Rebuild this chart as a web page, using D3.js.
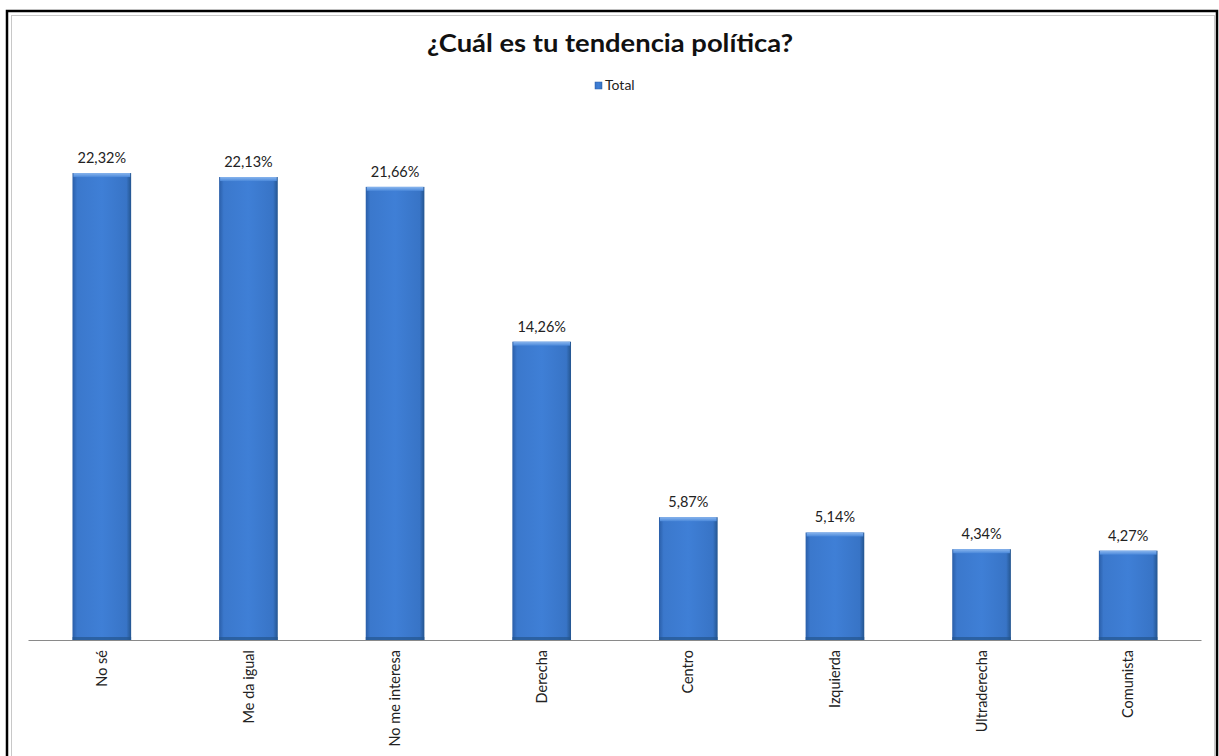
<!DOCTYPE html>
<html>
<head>
<meta charset="utf-8">
<script src="https://cdn.jsdelivr.net/npm/d3@7"></script>
<style>
  html, body { margin: 0; padding: 0; background: #fff; }
  svg { display: block; }
</style>
</head>
<body>
<svg id="chart" width="1219" height="756"></svg>
<script>
const title = "¿Cuál es tu tendencia política?";
const seriesName = "Total";
const categories = ["No sé", "Me da igual", "No me interesa", "Derecha", "Centro", "Izquierda", "Ultraderecha", "Comunista"];
const values = [22.32, 22.13, 21.66, 14.26, 5.87, 5.14, 4.34, 4.27];
const valueLabels = ["22,32%", "22,13%", "21,66%", "14,26%", "5,87%", "5,14%", "4,34%", "4,27%"];

const svg = d3.select("#chart");
const font = "Lato, 'Open Sans', sans-serif";

// frame
svg.append("rect").attr("x", 7).attr("y", 11).attr("width", 1210).attr("height", 760)
  .attr("fill", "#fff").attr("stroke", "#000").attr("stroke-width", 2.5);
svg.append("rect").attr("x", 11.5).attr("y", 15.5).attr("width", 1203).attr("height", 760)
  .attr("fill", "none").attr("stroke", "#c8c8c8").attr("stroke-width", 1);

// gradients
const defs = svg.append("defs");
const g1 = defs.append("linearGradient").attr("id", "barGrad").attr("x1", "0").attr("x2", "1").attr("y1", "0").attr("y2", "0");
g1.append("stop").attr("offset", "0%").attr("stop-color", "#2a5ea8");
g1.append("stop").attr("offset", "8%").attr("stop-color", "#3b78cc");
g1.append("stop").attr("offset", "50%").attr("stop-color", "#3f7fd6");
g1.append("stop").attr("offset", "92%").attr("stop-color", "#3874c6");
g1.append("stop").attr("offset", "100%").attr("stop-color", "#24558f");
const g2 = defs.append("linearGradient").attr("id", "topGrad").attr("x1", "0").attr("x2", "0").attr("y1", "0").attr("y2", "1");
g2.append("stop").attr("offset", "0%").attr("stop-color", "#8ab6ee");
g2.append("stop").attr("offset", "100%").attr("stop-color", "#4a88da");

// scales
const x = d3.scaleBand().domain(categories).range([28.5, 1201.5]).paddingInner(0.6).paddingOuter(0.3);
const y = d3.scaleLinear().domain([0, 25]).range([640, 117]);

// bars
const bars = svg.append("g");
categories.forEach((c, i) => {
  const bx = x(c), bw = x.bandwidth(), by = y(values[i]), bh = y(0) - y(values[i]);
  bars.append("rect").attr("x", bx).attr("y", by).attr("width", bw).attr("height", bh)
    .attr("fill", "url(#barGrad)");
  bars.append("rect").attr("x", bx + 1).attr("y", by).attr("width", bw - 2).attr("height", 4)
    .attr("fill", "url(#topGrad)");
  bars.append("rect").attr("x", bx).attr("y", y(0) - 3).attr("width", bw).attr("height", 3)
    .attr("fill", "#24558f").attr("opacity", 0.7);
  svg.append("text").attr("x", bx + bw / 2).attr("y", by - 10)
    .attr("text-anchor", "middle").attr("font-family", font).attr("font-size", 14.5)
    .attr("fill", "#222").text(valueLabels[i]);
});

// axis
const axis = svg.append("g").attr("transform", `translate(0,${y(0)})`)
  .call(d3.axisBottom(x).tickSize(0).tickPadding(0));
axis.select(".domain").attr("stroke", "#8a8a8a").attr("d", "M28.5,0.5H1201.5");
axis.selectAll(".tick text")
  .attr("font-family", font).attr("font-size", 14.5).attr("fill", "#222")
  .attr("transform", "rotate(-90)")
  .attr("text-anchor", "end")
  .attr("x", -10).attr("y", 0).attr("dy", "0.35em");

// title
svg.append("text").attr("x", 610).attr("y", 52).attr("text-anchor", "middle")
  .attr("font-family", font).attr("font-weight", "bold").attr("font-size", 25)
  .attr("fill", "#111").attr("textLength", 366).attr("lengthAdjust", "spacingAndGlyphs")
  .text(title);

// legend
svg.append("rect").attr("x", 595).attr("y", 82).attr("width", 7).attr("height", 7)
  .attr("fill", "url(#barGrad)").attr("stroke", "#2a5ea8").attr("stroke-width", 0.5);
svg.append("text").attr("x", 605).attr("y", 89.5).attr("font-family", font).attr("font-size", 14)
  .attr("fill", "#222").text(seriesName);
</script>
</body>
</html>
